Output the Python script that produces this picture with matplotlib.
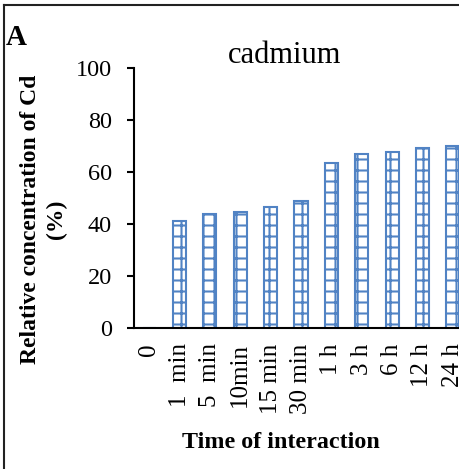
import matplotlib
matplotlib.use("Agg")
import matplotlib.pyplot as plt
from matplotlib.lines import Line2D

categories = ["0", "1  min", "5  min", "10min", "15 min", "30 min", "1 h", "3 h", "6 h", "12 h", "24 h"]
values = [0, 41.2, 44.0, 44.7, 46.5, 48.8, 63.5, 67.0, 67.7, 69.1, 70.1]
yticks = [0, 20, 40, 60, 80, 100]

DPI = 66
k = 100 / DPI  # keeps pixel sizes as designed at 100 dpi

plt.rcParams['font.family'] = ['Liberation Serif', 'DejaVu Serif']
plt.rcParams['hatch.linewidth'] = 1.5 * k

W, H = 459, 469
fig = plt.figure(figsize=(W / DPI, H / DPI), dpi=DPI)
L, R, T, B = 134, 468, 68, 328
ax = fig.add_axes([L / W, 1 - B / H, (R - L) / W, (B - T) / H])

blue = '#5183c4'
x = list(range(len(categories)))
ax.bar(x, values, width=0.43, facecolor='white', edgecolor=blue, linewidth=1.5 * k, hatch='-|')

ax.set_xlim(-0.5, len(categories) - 0.5)
ax.set_ylim(0, 100)
ax.set_yticks(yticks)
ax.set_yticklabels([str(v) for v in yticks], fontsize=17.5 * k)
ax.set_xticks(x)
ax.set_xticklabels(categories, rotation=90, fontsize=18 * k, va='top', ha='center')
ax.tick_params(axis='x', length=0, pad=11 * k)
ax.tick_params(axis='y', length=5 * k, width=1.5 * k, pad=11 * k, direction='out')
for s in ['top', 'right']:
    ax.spines[s].set_visible(False)
for s in ['left', 'bottom']:
    ax.spines[s].set_linewidth(1.5 * k)
ax.patch.set_alpha(0)

fig.text(285 / W, 1 - 63 / H, "cadmium", fontsize=22 * k, ha='center', va='baseline')
fig.text(44 / W, 1 - 219 / H, "Relative concentration of Cd\n(%)", fontsize=17 * k,
         fontweight='bold', rotation=90, ha='center', va='center', multialignment='center',
         linespacing=1.3)
fig.text(281 / W, 1 - 443 / H, "Time of interaction", fontsize=17.3 * k, fontweight='bold',
         ha='center', va='center')
fig.text(6 / W, 1 - 45 / H, "A", fontsize=21 * k, fontweight='bold', ha='left', va='baseline')

fig.add_artist(Line2D([4 / W, 1], [1 - 5 / H, 1 - 5 / H], transform=fig.transFigure,
                      color='#222222', linewidth=1.5 * k))
fig.add_artist(Line2D([4 / W, 4 / W], [0, 1 - 5 / H], transform=fig.transFigure,
                      color='#222222', linewidth=1.5 * k))

fig.savefig("out.png", dpi=DPI)
